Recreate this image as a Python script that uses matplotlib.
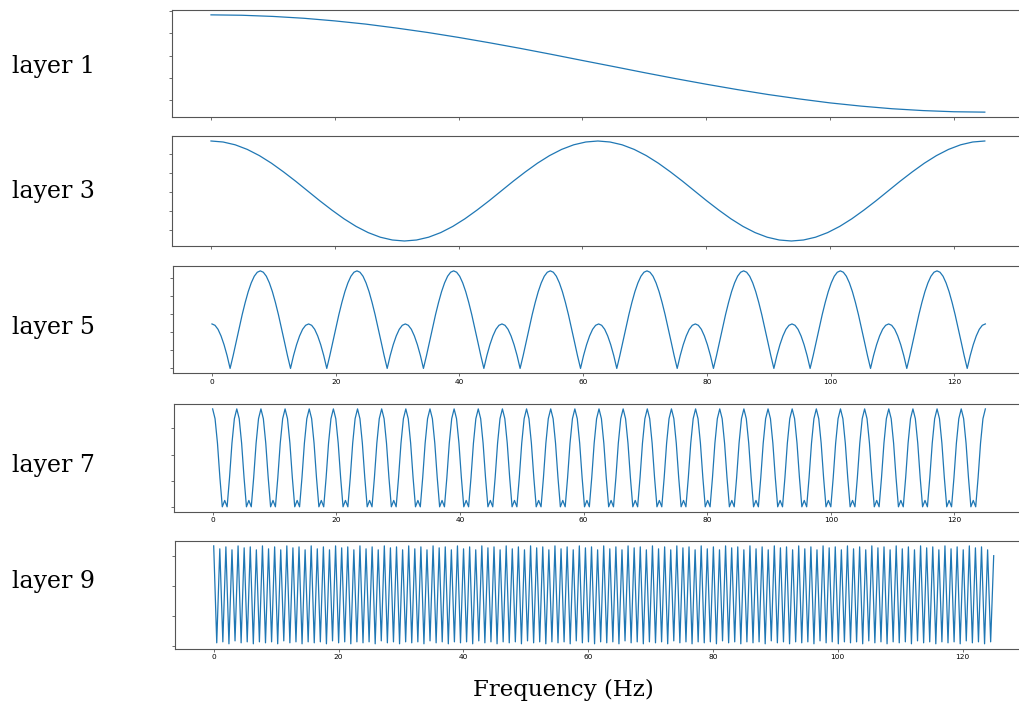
import numpy as np
import matplotlib.pyplot as plt

layer1 = [1.000, 0.996, 0.984, 0.965, 0.938, 0.905, 0.864, 0.819, 0.768, 0.713,
          0.655, 0.594, 0.531, 0.469, 0.406, 0.345, 0.287, 0.232, 0.181, 0.136,
          0.095, 0.062, 0.035, 0.016, 0.004, 0.000]

layer3 = [1.000, .990, .962, .916, .854, .778, .691, .598, .500, .402, .309, .222, .146, .084, .038, .010,
          .000, .010, .038, .084, .146, .222, .309, .402, .500, .598, .691, .778, .854, .916, .962, .990,
          1.000, .990, .962, .916, .854, .778, .691, .598, .500, .402, .309, .222, .146, .084, .038, .010,
          .000, .010, .038, .084, .146, .222, .309, .402, .500, .598, .691, .778, .854, .916, .962, .990,
          1.000]

layer5 = [.456, .442, .401, .333, .243, .132, .000, .130, .272, .414, .551, .676, .787, .877, .945, .986,
          1.000, .986, .945, .877, .787, .676, .551, .414, .272, .130, .000, .132, .243, .333, .401, .442,
          .456, .442, .401, .333, .243, .132, .000, .130, .272, .414, .551, .676, .787, .877, .945, .986,
          1.000, .986, .945, .877, .787, .676, .551, .414, .272, .130, .000, .132, .243, .333, .401, .442,
          .456, .442, .401, .333, .243, .132, .000, .130, .272, .414, .551, .676, .787, .877, .945, .986,
          1.000, .986, .945, .877, .787, .676, .551, .414, .272, .130, .000, .132, .243, .333, .401, .442,
          .456, .442, .401, .333, .243, .132, .000, .130, .272, .414, .551, .676, .787, .877, .945, .986,
          1.000, .986, .945, .877, .787, .676, .551, .414, .272, .130, .000, .132, .243, .333, .401, .442,
          .456, .442, .401, .333, .243, .132, .000, .130, .272, .414, .551, .676, .787, .877, .945, .986,
          1.000, .986, .945, .877, .787, .676, .551, .414, .272, .130, .000, .132, .243, .333, .401, .442,
          .456, .442, .401, .333, .243, .132, .000, .130, .272, .414, .551, .676, .787, .877, .945, .986,
          1.000, .986, .945, .877, .787, .676, .551, .414, .272, .130, .000, .132, .243, .333, .401, .442,
          .456, .442, .401, .333, .243, .132, .000, .130, .272, .414, .551, .676, .787, .877, .945, .986,
          1.000, .986, .945, .877, .787, .676, .551, .414, .272, .130, .000, .132, .243, .333, .401, .442,
          .456, .442, .401, .333, .243, .132, .000, .130, .272, .414, .551, .676, .787, .877, .945, .986,
          1.000, .986, .945, .877, .787, .676, .551, .414, .272, .130, .000, .132, .243, .333, .401, .442,
          .456]

layer7 = [1.0, .90, .65, .30, .00, .065, .00, .30, .65, .90,
          1.0, .90, .65, .30, .00, .065, .00, .30, .65, .90,
          1.0, .90, .65, .30, .00, .065, .00, .30, .65, .90,
          1.0, .90, .65, .30, .00, .065, .00, .30, .65, .90,
          1.0, .90, .65, .30, .00, .065, .00, .30, .65, .90,
          1.0, .90, .65, .30, .00, .065, .00, .30, .65, .90,
          1.0, .90, .65, .30, .00, .065, .00, .30, .65, .90,
          1.0, .90, .65, .30, .00, .065, .00, .30, .65, .90,
          1.0, .90, .65, .30, .00, .065, .00, .30, .65, .90,
          1.0, .90, .65, .30, .00, .065, .00, .30, .65, .90,
          1.0, .90, .65, .30, .00, .065, .00, .30, .65, .90,
          1.0, .90, .65, .30, .00, .065, .00, .30, .65, .90,
          1.0, .90, .65, .30, .00, .065, .00, .30, .65, .90,
          1.0, .90, .65, .30, .00, .065, .00, .30, .65, .90,
          1.0, .90, .65, .30, .00, .065, .00, .30, .65, .90,
          1.0, .90, .65, .30, .00, .065, .00, .30, .65, .90,
          1.0, .90, .65, .30, .00, .065, .00, .30, .65, .90,
          1.0, .90, .65, .30, .00, .065, .00, .30, .65, .90,
          1.0, .90, .65, .30, .00, .065, .00, .30, .65, .90,
          1.0, .90, .65, .30, .00, .065, .00, .30, .65, .90,
          1.0, .90, .65, .30, .00, .065, .00, .30, .65, .90,
          1.0, .90, .65, .30, .00, .065, .00, .30, .65, .90,
          1.0, .90, .65, .30, .00, .065, .00, .30, .65, .90,
          1.0, .90, .65, .30, .00, .065, .00, .30, .65, .90,
          1.0, .90, .65, .30, .00, .065, .00, .30, .65, .90,
          1.0, .90, .65, .30, .00, .065, .00, .30, .65, .90,
          1.0, .90, .65, .30, .00, .065, .00, .30, .65, .90,
          1.0, .90, .65, .30, .00, .065, .00, .30, .65, .90,
          1.0, .90, .65, .30, .00, .065, .00, .30, .65, .90,
          1.0, .90, .65, .30, .00, .065, .00, .30, .65, .90,
          1.0, .90, .65, .30, .00, .065, .00, .30, .65, .90,
          1.0, .90, .65, .30, .00, .065, .00, .30, .65, .90,
          1.0]

# layer 9: peaks and troughs only (about 128 cycles)
layer9 = [1.00, .01, .97, .02, .99, .00, .96, .03, 1.00, .01, .98, .02, .99, .00, .96, .02,
          1.00, .01, .97, .02, .99, .00, .96, .03, 1.00, .01, .98, .02, .99, .00, .96, .02,
          1.00, .01, .97, .02, .99, .00, .96, .03, 1.00, .01, .98, .02, .99, .00, .96, .02,
          1.00, .01, .97, .02, .99, .00, .96, .03, 1.00, .01, .98, .02, .99, .00, .96, .02,
          1.00, .01, .97, .02, .99, .00, .96, .03, 1.00, .01, .98, .02, .99, .00, .96, .02,
          1.00, .01, .97, .02, .99, .00, .96, .03, 1.00, .01, .98, .02, .99, .00, .96, .02,
          1.00, .01, .97, .02, .99, .00, .96, .03, 1.00, .01, .98, .02, .99, .00, .96, .02,
          1.00, .01, .97, .02, .99, .00, .96, .03, 1.00, .01, .98, .02, .99, .00, .96, .02,
          1.00, .01, .97, .02, .99, .00, .96, .03, 1.00, .01, .98, .02, .99, .00, .96, .02,
          1.00, .01, .97, .02, .99, .00, .96, .03, 1.00, .01, .98, .02, .99, .00, .96, .02,
          1.00, .01, .97, .02, .99, .00, .96, .03, 1.00, .01, .98, .02, .99, .00, .96, .02,
          1.00, .01, .97, .02, .99, .00, .96, .03, 1.00, .01, .98, .02, .99, .00, .96, .02,
          1.00, .01, .97, .02, .99, .00, .96, .03, 1.00, .01, .98, .02, .99, .00, .96, .02,
          1.00, .01, .97, .02, .99, .00, .96, .03, 1.00, .01, .98, .02, .99, .00, .96, .02,
          1.00, .01, .97, .02, .99, .00, .96, .03, 1.00, .01, .98, .02, .99, .00, .96, .02,
          1.00, .01, .97, .02, .99, .00, .96, .03, 1.00, .01, .98, .02, .99, .00, .96, .02,
          0.90]

labels = ['layer 1', 'layer 3', 'layer 5', 'layer 7', 'layer 9']
series = [layer1, layer3, layer5, layer7, layer9]
xticks = [0, 20, 40, 60, 80, 100, 120]

# panel boxes in pixels: left, top, right, bottom
W, H = 1019, 704
boxes = [(172.3, 10, 1023.5, 117),
         (172.3, 136, 1023.5, 246),
         (173.3, 266, 1024, 373.3),
         (174, 404, 1024, 511.7),
         (174.7, 541, 1032.7, 648.7)]
yticks = [[0.122, 0.352, 0.581, 0.811, 1.041],
          [0.105, 0.296, 0.487, 0.678, 0.869],
          [0.0, 0.185, 0.37, 0.555, 0.74, 0.925],
          [0.0, 0.267, 0.533, 0.80],
          [-0.02, 0.286, 0.593, 0.899]]
label_base = [72.7, 198, 334, 472, 588]
show_xlabels = [False, False, True, True, True]

fig = plt.figure(figsize=(10.19, 7.04), dpi=100)

for i in range(5):
    l, t, r, b = boxes[i]
    ax = fig.add_axes([l / W, 1 - b / H, (r - l) / W, (b - t) / H])
    y = np.array(series[i])
    x = np.linspace(0, 125, len(y))
    ax.plot(x, y, color='#1f77b4', lw=0.9)
    ax.set_xlim(-6.25, 131.25)
    ax.margins(y=0.05)
    ax.set_xticks(xticks)
    ax.set_yticks(yticks[i])
    ax.set_yticklabels([])
    if not show_xlabels[i]:
        ax.set_xticklabels([])
    ax.tick_params(length=2, width=0.6, color='#555555', labelsize=5.3, pad=2)
    for s in ax.spines.values():
        s.set_color('#555555')
        s.set_linewidth(0.8)
    fig.text(12 / W, 1 - label_base[i] / H, labels[i], family='DejaVu Serif',
             fontsize=17, va='baseline', ha='left')

fig.text(563.5 / W, 1 - 696 / H, 'Frequency (Hz)', family='DejaVu Serif',
         fontsize=16.5, va='baseline', ha='center')

fig.savefig('out.png', dpi=100)
